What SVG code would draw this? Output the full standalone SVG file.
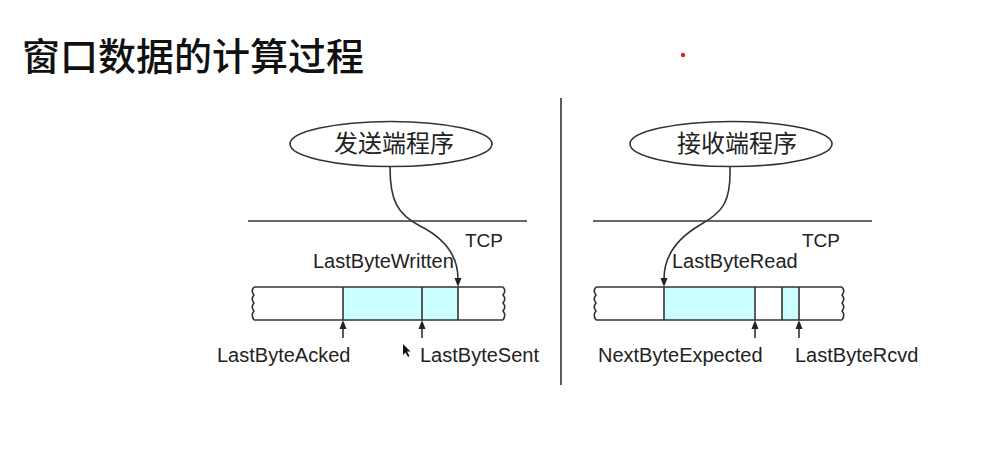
<svg xmlns="http://www.w3.org/2000/svg" width="1007" height="475" viewBox="0 0 1007 475">
<style>
.ln{stroke:#333;stroke-width:1.6;fill:none}
.ah{fill:#222}
.lbl{font-family:"Liberation Sans",Arial,sans-serif;font-size:20px;fill:#222}
.tcp{font-family:"Liberation Sans",Arial,sans-serif;font-size:19px;fill:#222}
.cjk{font-family:"Noto Sans CJK SC",sans-serif;font-size:24px;fill:#222;text-anchor:middle}
.buf{fill:#ccffff}
</style>
<rect width="1007" height="475" fill="#ffffff"/>
<text x="22" y="70" font-family="'Noto Sans CJK SC',sans-serif" font-size="38" font-weight="500" fill="#111">窗口数据的计算过程</text>
<circle cx="683" cy="55" r="2.2" fill="#e02020"/>
<line x1="561" y1="98" x2="561" y2="385" class="ln" stroke-width="2"/>

<g id="sender">
  <g id="sender-app">
    <ellipse cx="391" cy="144" rx="101" ry="22.5" class="ln"/>
    <text x="394" y="152" class="cjk">发送端程序</text>
  </g>
  <g id="sender-tcp">
    <line x1="248" y1="221" x2="527" y2="221" class="ln"/>
    <text x="465" y="247" class="tcp">TCP</text>
  </g>
  <g id="sender-buffer">
    <rect x="343" y="287" width="115" height="33" class="buf"/>
    <line x1="254" y1="287" x2="503" y2="287" class="ln"/>
    <line x1="254" y1="320" x2="503" y2="320" class="ln"/>
    <path d="M254,287 q-3.5,4 0,8 q-3.5,4 0,8 q-3.5,4 0,8 q-3.5,4 0,9" class="ln"/>
    <path d="M503,287 q3.5,4 0,8 q3.5,4 0,8 q3.5,4 0,8 q3.5,4 0,9" class="ln"/>
    <line x1="343" y1="287" x2="343" y2="320" class="ln"/>
    <line x1="422" y1="287" x2="422" y2="320" class="ln"/>
    <line x1="458" y1="287" x2="458" y2="320" class="ln"/>
  </g>
  <text x="313" y="268" class="lbl">LastByteWritten</text>
  <text x="217" y="362" class="lbl">LastByteAcked</text>
  <text x="420" y="362" class="lbl">LastByteSent</text>
</g>

<g id="receiver">
  <g id="receiver-app">
    <ellipse cx="731" cy="144" rx="101" ry="22.5" class="ln"/>
    <text x="737" y="152" class="cjk">接收端程序</text>
  </g>
  <g id="receiver-tcp">
    <line x1="593" y1="221" x2="872" y2="221" class="ln"/>
    <text x="802" y="247" class="tcp">TCP</text>
  </g>
  <g id="receiver-buffer">
    <rect x="664" y="287" width="91" height="33" class="buf"/>
    <rect x="782" y="287" width="17" height="33" class="buf"/>
    <line x1="596" y1="287" x2="842" y2="287" class="ln"/>
    <line x1="596" y1="320" x2="842" y2="320" class="ln"/>
    <path d="M596,287 q-3.5,4 0,8 q-3.5,4 0,8 q-3.5,4 0,8 q-3.5,4 0,9" class="ln"/>
    <path d="M842,287 q3.5,4 0,8 q3.5,4 0,8 q3.5,4 0,8 q3.5,4 0,9" class="ln"/>
    <line x1="664" y1="287" x2="664" y2="320" class="ln"/>
    <line x1="755" y1="287" x2="755" y2="320" class="ln"/>
    <line x1="782" y1="287" x2="782" y2="320" class="ln"/>
    <line x1="799" y1="287" x2="799" y2="320" class="ln"/>
  </g>
  <text x="672" y="268" class="lbl">LastByteRead</text>
  <text x="598" y="362" class="lbl">NextByteExpected</text>
  <text x="795" y="362" class="lbl">LastByteRcvd</text>
</g>

<g id="connectors">
  <path d="M390,167 C390,200 397,214 420,226 C446,239 458,256 458,279" class="ln"/>
  <polygon points="458,287 454.5,278 461.5,278" class="ah"/>
  <path d="M730,167 C731,200 724,212 700,225 C676,239 664,256 664,279" class="ln"/>
  <polygon points="664,287 660.5,278 667.5,278" class="ah"/>
  <line x1="343" y1="338" x2="343" y2="328" class="ln"/>
  <polygon points="343,320 339.5,329 346.5,329" class="ah"/>
  <line x1="422" y1="338" x2="422" y2="328" class="ln"/>
  <polygon points="422,320 418.5,329 425.5,329" class="ah"/>
  <line x1="755" y1="338" x2="755" y2="328" class="ln"/>
  <polygon points="755,320 751.5,329 758.5,329" class="ah"/>
  <line x1="799" y1="338" x2="799" y2="328" class="ln"/>
  <polygon points="799,320 795.5,329 802.5,329" class="ah"/>
</g>

<polygon points="403,344 403,355 405.5,352.5 408,357 409.5,356 407,351.5 410.5,351.5" fill="#111"/>
</svg>
